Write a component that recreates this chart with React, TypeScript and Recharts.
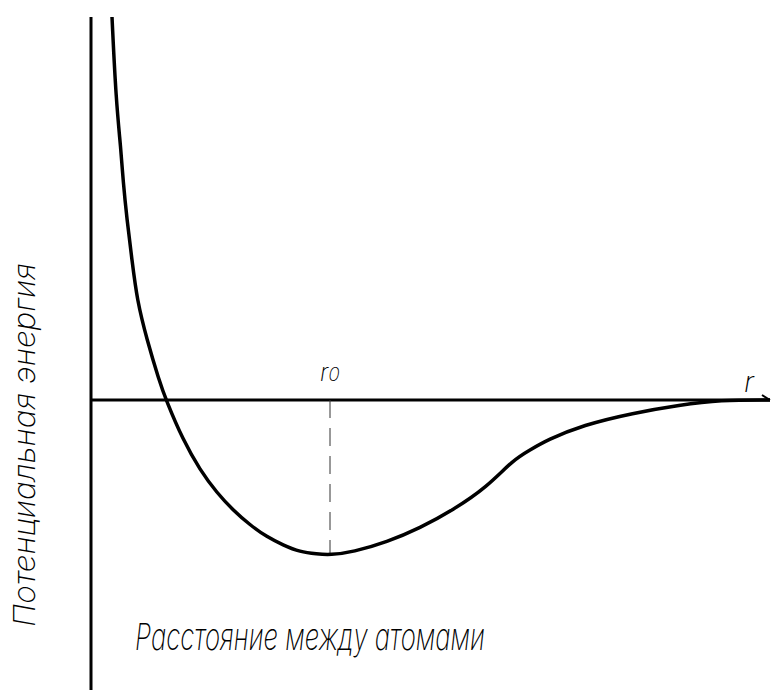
import { LineChart, Line, XAxis, YAxis, ReferenceLine } from "recharts";

// interatomic distance (arb. units) and potential energy
const distance = [
  0.21, 0.25, 0.3, 0.32, 0.36, 0.41, 0.46, 0.56, 0.68, 0.75, 0.92, 1.09, 1.26,
  1.42, 1.59, 1.76, 1.92, 2.09, 2.26, 2.39, 2.62, 2.96, 3.29, 3.62, 3.96, 4.22,
  4.39, 4.56, 4.92, 5.42, 5.89, 6.29, 6.79,
];
const energy = [
  3.83, 3.0, 2.5, 2.2, 1.8, 1.4, 1.0, 0.6, 0.2, 0, -0.4, -0.7, -0.93, -1.1,
  -1.25, -1.37, -1.45, -1.52, -1.54, -1.55, -1.52, -1.42, -1.28, -1.1, -0.87,
  -0.6, -0.5, -0.4, -0.25, -0.13, -0.05, 0, 0,
];
const r0 = 2.39;
const eMin = -1.55;

const xLabel = "Расстояние между атомами";
const yLabel = "Потенциальная энергия";

const data = distance.map((r, i) => ({ r, e: energy[i] }));

const FONT = "Inter, 'DejaVu Sans', sans-serif";

const Arrow = (props: any) => {
  const vb = props.viewBox || {};
  const x = vb.x + vb.width;
  const y = vb.y;
  return <path d={`M${x - 8},${y - 5} L${x},${y}`} stroke="#000" strokeWidth={2} fill="none" />;
};

export default function App() {
  return (
    <div style={{ position: "absolute", left: 0, top: 0, background: "#fff" }}>
      <LineChart
        width={774}
        height={694}
        data={data}
        margin={{ top: 17, right: 4, bottom: 4, left: 91 }}
      >
        <XAxis dataKey="r" type="number" domain={[0, 6.79]} hide />
        <YAxis type="number" domain={[-2.9, 3.83]} hide allowDataOverflow />
        <ReferenceLine x={0} stroke="#000" strokeWidth={3} />
        <ReferenceLine y={0} stroke="#000" strokeWidth={3} label={<Arrow />} />
        <ReferenceLine
          segment={[
            { x: r0, y: 0 },
            { x: r0, y: eMin },
          ]}
          stroke="#333"
          strokeWidth={1}
          strokeDasharray="18 10"
        />
        <Line
          dataKey="e"
          type="basis"
          stroke="#000"
          strokeWidth={3.5}
          dot={false}
          isAnimationActive={false}
        />
        <text x={320} y={381} fontFamily={FONT} fontWeight={200} fontStyle="italic" fontSize={24} fill="#000">
          r<tspan fontSize={19}>0</tspan>
        </text>
        <text x={744} y={392} fontFamily={FONT} fontWeight={200} fontStyle="italic" fontSize={29} fill="#000">
          r
        </text>
        <text
          x={135}
          y={650}
          fontFamily={FONT}
          fontWeight={200}
          fontStyle="italic"
          fontSize={37}
          textLength={350}
          lengthAdjust="spacingAndGlyphs"
          fill="#000"
        >
          {xLabel}
        </text>
        <text
          x={0}
          y={0}
          transform="translate(35,627) rotate(-90)"
          fontFamily={FONT}
          fontWeight={200}
          fontStyle="italic"
          fontSize={30}
          textLength={364}
          lengthAdjust="spacingAndGlyphs"
          fill="#000"
        >
          {yLabel}
        </text>
      </LineChart>
    </div>
  );
}
